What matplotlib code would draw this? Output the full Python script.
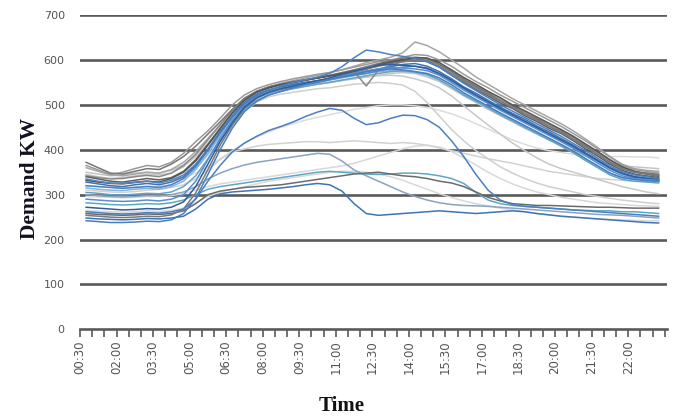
"""Half-hourly demand profiles (kW) drawn as overlaid daily lines."""
import matplotlib
matplotlib.use("Agg")
import matplotlib.pyplot as plt
import numpy as np

# Half-hour slots, 00:30 .. 24:00 (48 points)
TIME_LABELS = ["00:30", "02:00", "03:30", "05:00", "06:30", "08:00", "09:30", "11:00",
               "12:30", "14:00", "15:30", "17:00", "18:30", "20:00", "21:30", "22:00"]
Y_TICKS = [0, 100, 200, 300, 400, 500, 600, 700]

# --- main daytime cluster ---
c01 = [372, 360, 348, 346, 352, 358, 356, 368, 385, 408, 435, 462, 490, 515, 530, 540,
       546, 552, 556, 560, 566, 572, 578, 585, 592, 598, 604, 606,
       604, 590, 574, 556, 541, 526, 508, 496, 480, 468, 452, 440, 424, 408, 390, 372, 358, 350, 348, 345]
c02 = [365, 355, 345, 350, 358, 365, 362, 372, 392, 418, 442, 470, 500, 522, 536, 545,
       552, 558, 563, 568, 572, 578, 584, 590, 596, 600, 606, 612,
       610, 600, 586, 568, 552, 538, 522, 508, 494, 480, 466, 452, 436, 420, 402, 384, 366, 356, 352, 348]
c03 = [340, 335, 330, 328, 332, 336, 333, 338, 352, 378, 412, 448, 482, 510, 528, 538,
       545, 550, 555, 560, 565, 570, 576, 580, 590, 596, 600, 604,
       596, 584, 566, 550, 534, 520, 504, 492, 476, 463, 448, 436, 420, 402, 386, 368, 354, 346, 342, 338]
c04 = [335, 330, 326, 325, 328, 330, 326, 332, 344, 368, 402, 440, 476, 506, 524, 534,
       540, 545, 550, 553, 558, 562, 566, 570, 576, 580, 584, 586,
       580, 568, 552, 536, 520, 505, 490, 476, 462, 449, 434, 420, 405, 390, 374, 358, 346, 338, 334, 330]
c05 = [328, 324, 320, 318, 322, 325, 322, 328, 340, 365, 400, 438, 474, 504, 522, 533,
       540, 546, 550, 554, 558, 563, 568, 574, 580, 585, 590, 592,
       586, 574, 558, 540, 526, 510, 495, 481, 468, 453, 440, 425, 410, 393, 377, 360, 348, 340, 336, 332]
c06 = [342, 338, 335, 336, 340, 343, 340, 348, 365, 390, 422, 455, 488, 514, 530, 540,
       546, 550, 555, 560, 565, 570, 574, 542, 578, 588, 596, 602,
       600, 590, 575, 558, 542, 527, 512, 498, 484, 470, 456, 442, 428, 410, 394, 376, 362, 352, 348, 344]
c07 = [315, 312, 310, 309, 312, 314, 312, 318, 330, 356, 392, 430, 466, 496, 515, 526,
       534, 540, 545, 550, 555, 560, 565, 570, 574, 576, 575, 572,
       566, 555, 540, 524, 510, 495, 480, 466, 452, 438, 424, 410, 396, 380, 364, 348, 338, 334, 332, 330]
c08 = [290, 288, 286, 285, 286, 288, 286, 290, 300, 330, 378, 425, 465, 498, 518, 530,
       537, 542, 548, 552, 558, 565, 570, 576, 580, 583, 582, 580,
       576, 566, 550, 533, 518, 503, 488, 474, 460, 446, 432, 418, 403, 387, 370, 354, 342, 336, 334, 333]
c09 = [272, 270, 268, 266, 267, 269, 268, 272, 284, 318, 368, 418, 460, 495, 516, 528,
       536, 542, 548, 554, 560, 568, 575, 582, 588, 590, 588, 586,
       582, 570, 555, 538, 522, 507, 492, 478, 464, 450, 436, 422, 408, 392, 376, 360, 348, 340, 337, 335]
c10 = [254, 252, 250, 249, 250, 252, 251, 255, 268, 304, 356, 410, 455, 492, 515, 528,
       535, 540, 546, 552, 558, 565, 572, 580, 586, 592, 596, 598,
       598, 586, 570, 553, 538, 523, 508, 494, 480, 466, 452, 438, 423, 406, 390, 372, 358, 350, 346, 342]
c11 = [242, 240, 238, 238, 239, 241, 240, 244, 258, 292, 345, 400, 448, 485, 508, 522,
       530, 538, 545, 550, 556, 562, 568, 574, 578, 580, 578, 574,
       570, 560, 545, 527, 512, 497, 482, 468, 454, 440, 426, 412, 397, 380, 364, 348, 338, 334, 331, 330]
c12 = [350, 346, 342, 344, 348, 350, 348, 354, 366, 388, 415, 444, 474, 500, 516, 526,
       533, 538, 542, 546, 550, 555, 558, 562, 566, 570, 572, 570,
       562, 552, 536, 520, 505, 490, 476, 462, 448, 435, 422, 410, 398, 386, 375, 368, 364, 362, 360, 358]
c13 = [360, 352, 344, 342, 346, 350, 348, 356, 372, 396, 425, 456, 488, 514, 530, 540,
       548, 554, 560, 566, 572, 578, 586, 594, 600, 606, 616, 640,
       632, 618, 600, 582, 562, 546, 530, 514, 500, 486, 472, 458, 442, 424, 405, 385, 368, 358, 354, 352]
c14 = [320, 318, 316, 314, 316, 318, 316, 322, 336, 362, 398, 436, 472, 502, 520, 532,
       542, 550, 556, 562, 570, 585, 605, 622, 618, 612, 608, 604,
       596, 584, 566, 548, 532, 516, 500, 486, 472, 458, 444, 430, 414, 398, 381, 364, 351, 344, 340, 336]
c15 = [305, 303, 300, 299, 301, 303, 302, 306, 318, 342, 380, 420, 458, 490, 510, 522,
       530, 536, 541, 546, 550, 555, 560, 565, 570, 574, 576, 574,
       568, 556, 540, 522, 508, 493, 478, 464, 450, 436, 422, 408, 393, 376, 360, 344, 334, 330, 328, 326]
c16 = [332, 328, 325, 324, 327, 330, 328, 336, 350, 375, 410, 446, 482, 510, 528, 538,
       545, 550, 555, 560, 564, 569, 574, 580, 588, 594, 600, 605,
       604, 594, 578, 561, 546, 530, 516, 500, 487, 473, 459, 445, 430, 413, 396, 378, 362, 352, 346, 341]

# --- lower / odd days ---
b1 = [262, 260, 258, 257, 258, 260, 259, 262, 268, 290, 330, 365, 395, 415, 430, 443,
      452, 462, 474, 484, 492, 488, 470, 456, 460, 470, 477, 476,
      467, 450, 420, 385, 345, 310, 288, 278, 274, 272, 270, 268, 266, 264, 262, 260, 258, 256, 254, 252]
b2 = [248, 246, 245, 244, 245, 247, 246, 248, 252, 268, 290, 302, 306, 308, 310, 312,
      315, 318, 322, 325, 322, 308, 280, 258, 254, 256, 258, 260,
      262, 264, 262, 260, 258, 260, 262, 264, 262, 258, 255, 252, 250, 248, 246, 244, 242, 240, 238, 237]
b3 = [300, 298, 296, 295, 296, 298, 297, 300, 306, 318, 335, 348, 358, 366, 372, 376,
      380, 384, 388, 392, 390, 375, 355, 342, 330, 318, 306, 296,
      288, 282, 278, 276, 275, 274, 272, 270, 268, 266, 264, 262, 260, 258, 256, 255, 254, 252, 250, 248]
t1 = [282, 280, 278, 277, 278, 280, 279, 282, 288, 300, 312, 318, 322, 326, 330, 334,
      338, 342, 346, 350, 352, 350, 348, 346, 345, 346, 348, 348,
      346, 342, 336, 325, 305, 288, 280, 276, 274, 272, 270, 268, 266, 265, 264, 264, 262, 262, 260, 258]
g1 = [258, 256, 255, 254, 255, 257, 256, 258, 264, 280, 300, 308, 312, 316, 318, 320,
      322, 326, 330, 334, 338, 342, 346, 348, 350, 346, 342, 340,
      336, 330, 326, 318, 306, 294, 286, 280, 278, 276, 276, 275, 274, 273, 272, 272, 271, 270, 270, 270]
l1 = [310, 308, 306, 305, 307, 310, 312, 316, 322, 335, 355, 378, 395, 402, 408, 412,
      414, 416, 418, 418, 416, 418, 420, 418, 416, 414, 416, 414,
      410, 404, 398, 392, 386, 380, 375, 370, 364, 358, 352, 348, 344, 340, 336, 334, 332, 330, 330, 328]
l2 = [296, 295, 294, 293, 294, 296, 296, 298, 302, 310, 318, 324, 328, 332, 336, 340,
      344, 348, 352, 356, 360, 364, 370, 378, 386, 394, 402, 408,
      410, 406, 396, 382, 366, 350, 336, 324, 314, 306, 300, 294, 290, 286, 282, 280, 278, 276, 275, 274]
l3 = [345, 340, 336, 338, 342, 346, 344, 348, 362, 385, 412, 440, 470, 496, 514, 526,
      533, 538, 542, 546, 550, 554, 558, 562, 565, 566, 564, 558,
      550, 538, 520, 498, 476, 455, 435, 415, 398, 382, 368, 358, 350, 342, 334, 326, 318, 312, 306, 302]
l4 = [320, 318, 316, 315, 317, 319, 318, 322, 335, 358, 388, 420, 455, 486, 506, 518,
      524, 528, 532, 536, 538, 542, 546, 548, 550, 548, 544, 530,
      505, 475, 445, 420, 398, 380, 362, 348, 336, 326, 318, 312, 306, 300, 296, 292, 288, 285, 282, 280]
l5 = [330, 328, 326, 326, 328, 330, 330, 333, 338, 348, 362, 380, 398, 414, 428, 440,
      450, 458, 466, 472, 478, 484, 490, 494, 498, 500, 500, 498,
      494, 488, 480, 470, 458, 446, 434, 422, 412, 404, 398, 394, 390, 388, 386, 385, 385, 384, 384, 382]
l6 = [265, 263, 262, 261, 262, 264, 263, 265, 270, 282, 296, 306, 312, 318, 324, 330,
      334, 338, 342, 346, 350, 352, 352, 350, 346, 340, 332, 322,
      312, 302, 294, 286, 280, 275, 270, 266, 262, 258, 255, 252, 250, 248, 246, 245, 244, 243, 242, 242]

# drawing order: pale lines first, dark/blue ones on top
SERIES = [l5, l1, l2, l6, l4, l3, c12, c13, c02, c07, c15, b3, t1, g1, c06, c01, c03, c16, c10,
          c04, c05, c08, c09, c11, c14, b1, b2]
COLORS = ["#dcdcdc", "#d2d2d2", "#d8d8d8", "#d9d9d9", "#cfcfcf", "#c8c8c8", "#c4c4c4", "#a6a6a6",
          "#9a9a9a", "#86b4da", "#62a4c6", "#8aa3c0", "#5ea8c4", "#6b6b6b", "#8a8a8a", "#777777",
          "#5f5f5f", "#555555", "#7a7a7a", "#4f86c6", "#3f73b5", "#5a8fcf", "#2f5f9e", "#4a7ec0",
          "#4b82c4", "#4a7fc1", "#3d74b8"]

GRID = "#5a5a5a"
TICK_INK = "#555555"

fig = plt.figure(figsize=(6.78, 4.18), dpi=100)
ax = fig.add_axes([0.118, 0.212, 0.866, 0.752])

x = np.arange(48) + 0.5
for values, color in zip(SERIES, COLORS):
    ax.plot(x, values, color=color, linewidth=1.1, zorder=3)

ax.set_xlim(0, 48.2)
ax.set_ylim(0, 700)
ax.set_yticks(Y_TICKS)
for v in Y_TICKS[1:]:
    ax.axhline(v, color=GRID, linewidth=1.9, zorder=1)

ax.set_xticks(np.arange(49))
ax.set_xticklabels([TIME_LABELS[i // 3] if i % 3 == 0 and i // 3 < len(TIME_LABELS) else ""
                    for i in range(49)], rotation=90, fontsize=8.5, color=TICK_INK)
ax.tick_params(axis="x", direction="out", length=6, width=1.2, color=GRID, pad=2)
ax.tick_params(axis="y", length=0, labelsize=8, labelcolor=TICK_INK, pad=11)

for spine in ("top", "right", "left"):
    ax.spines[spine].set_visible(False)
ax.spines["bottom"].set_color(GRID)
ax.spines["bottom"].set_linewidth(1.9)

ax.set_xlabel("Time", family="Liberation Serif", fontsize=15, weight="bold", color="#111111")
ax.set_ylabel("Demand KW", family="Liberation Serif", fontsize=15.5, weight="bold", color="#111122")
ax.xaxis.set_label_coords(0.445, -0.213)
ax.yaxis.set_label_coords(-0.068, 0.48)

fig.savefig("out.png", dpi=100, facecolor="white")
